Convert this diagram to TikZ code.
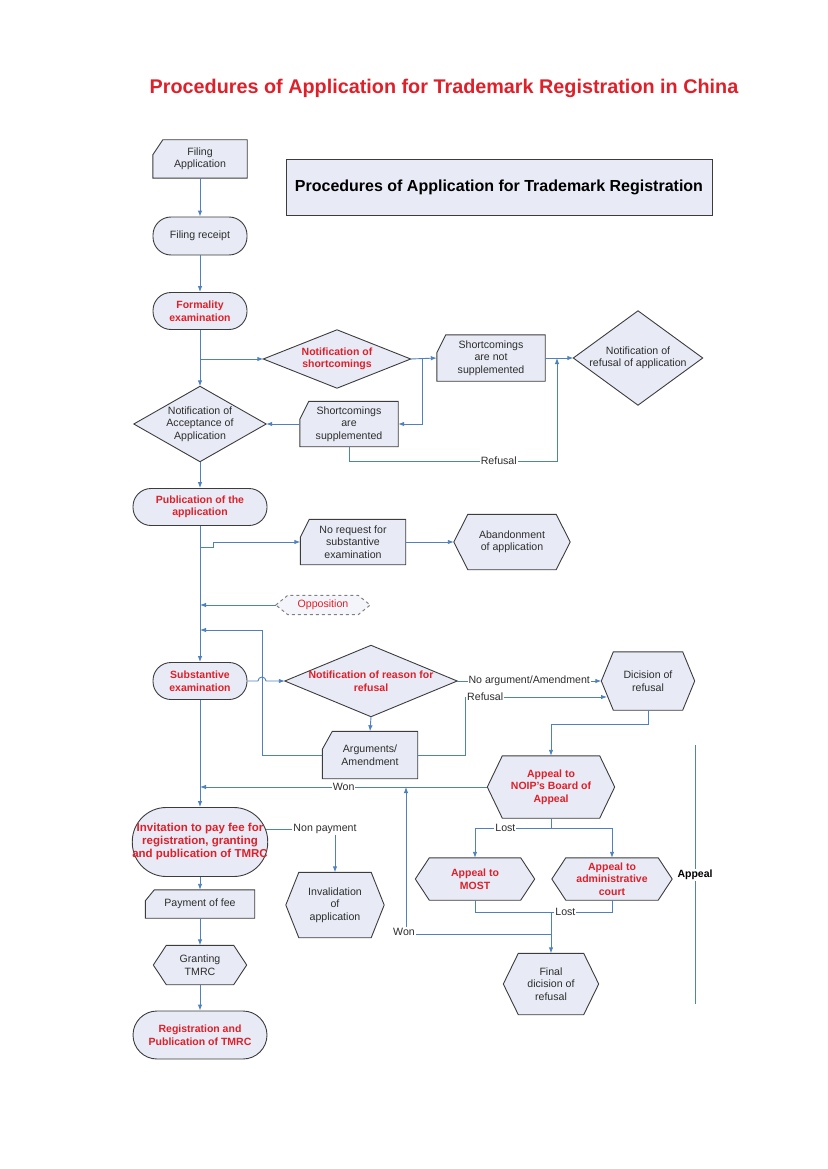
\documentclass[tikz,border=0pt]{standalone}
\usepackage{fontspec}
\setmainfont{Liberation Sans}
\usetikzlibrary{arrows.meta,calc}
\pgfdeclarelayer{bg}
\pgfsetlayers{bg,main}
\definecolor{fillc}{RGB}{232,235,246}
\definecolor{edgec}{RGB}{60,60,60}
\definecolor{linec}{RGB}{79,129,189}
\definecolor{redc}{RGB}{222,32,42}
\definecolor{txtc}{RGB}{45,45,45}
\tikzset{
  every node/.style={inner sep=0pt, align=center, text=txtc, font=\fontsize{10.6}{12.5}\selectfont},
  outl/.style={draw=edgec, fill=fillc, line width=0.9pt},
  stad/.style={draw=edgec, fill=fillc, line width=0.9pt, rounded corners=#1},
  redt/.style={text=redc, font=\bfseries\fontsize{10.5}{12.5}\selectfont},
  arr/.style={draw=linec, line width=0.9pt, -{Latex[length=6pt,width=4.5pt]}},
  con/.style={draw=linec, line width=0.9pt},
  lbl/.style={fill=white, inner sep=1pt, text=txtc}
}
\newcommand\mkcard[3]{\begin{pgfonlayer}{bg}\path[outl] ([yshift=-#3]#1.north west) -- ([xshift=#2]#1.north west) -- (#1.north east) -- (#1.south east) -- (#1.south west) -- cycle;\end{pgfonlayer}}
\newcommand\mkhex[2]{\begin{pgfonlayer}{bg}\path[outl] (#1.west) -- ([xshift=#2]#1.north west) -- ([xshift=-#2]#1.north east) -- (#1.east) -- ([xshift=-#2]#1.south east) -- ([xshift=#2]#1.south west) -- cycle;\end{pgfonlayer}}
\newcommand\mkdiam[1]{\begin{pgfonlayer}{bg}\path[outl] (#1.west) -- (#1.north) -- (#1.east) -- (#1.south) -- cycle;\end{pgfonlayer}}
\begin{document}
\begin{tikzpicture}[x=1pt,y=-1pt]
\useasboundingbox (0,0) rectangle (827,1169);
\node[redt, font=\bfseries\fontsize{19.8}{23}\selectfont] (title) at (444,88) {Procedures of Application for Trademark Registration in China};
\node[outl, minimum width=426pt, minimum height=56pt, text=black, font=\bfseries\fontsize{16}{19}\selectfont] (tbox) at (499,187) {Procedures of Application for Trademark Registration};

\node[minimum width=94pt, minimum height=38pt] (fa) at (200,159) {Filing\\Application}; \mkcard{fa}{10pt}{15pt}
\node[stad=18pt, minimum width=94pt, minimum height=38pt] (fr) at (200,236) {Filing receipt};
\node[stad=18pt, redt, minimum width=94pt, minimum height=37pt] (fe) at (200,311) {Formality\\examination};
\node[redt, minimum width=147pt, minimum height=58pt] (ns) at (337,359) {Notification of\\shortcomings}; \mkdiam{ns}
\node[minimum width=108pt, minimum height=46pt] (sn) at (491,358) {Shortcomings\\are not\\supplemented}; \mkcard{sn}{9pt}{18pt}
\node[minimum width=129pt, minimum height=94pt] (nr) at (638,358) {Notification of\\refusal of application}; \mkdiam{nr}
\node[minimum width=98pt, minimum height=45pt] (ss) at (349,424) {Shortcomings\\are\\supplemented}; \mkcard{ss}{9pt}{18pt}
\node[minimum width=132pt, minimum height=75pt] (na) at (200,424) {Notification of\\Acceptance of\\Application}; \mkdiam{na}
\node[stad=18pt, redt, minimum width=134pt, minimum height=37pt] (pa) at (200,507) {Publication of the\\application};
\node[minimum width=105pt, minimum height=45pt] (nq) at (353,542) {No request for\\substantive\\examination}; \mkcard{nq}{9pt}{18pt}
\node[minimum width=116pt, minimum height=55pt] (ab) at (512,542) {Abandonment\\of application}; \mkhex{ab}{14pt}
\node[text=redc, minimum width=94pt, minimum height=19pt] (op) at (323,605) {Opposition};
\begin{pgfonlayer}{bg}\path[draw=gray, dashed, line width=1pt, fill=fillc!50] (op.west) -- ([xshift=12pt]op.north west) -- ([xshift=-12pt]op.north east) -- (op.east) -- ([xshift=-12pt]op.south east) -- ([xshift=12pt]op.south west) -- cycle;\end{pgfonlayer}
\node[stad=18pt, redt, minimum width=94pt, minimum height=37pt] (se) at (200,681) {Substantive\\examination};
\node[redt, minimum width=172pt, minimum height=71pt] (rr) at (371,681) {Notification of reason for\\refusal}; \mkdiam{rr}
\node[minimum width=93pt, minimum height=58pt] (dr) at (648,681) {Dicision of\\refusal}; \mkhex{dr}{12pt}
\node[minimum width=95pt, minimum height=47pt] (am) at (370,755) {Arguments/\\Amendment}; \mkcard{am}{10pt}{18pt}
\node[redt, minimum width=127pt, minimum height=62pt] (noip) at (551,787) {Appeal to\\NOIP's Board of\\Appeal}; \mkhex{noip}{15pt}
\node[stad=34pt, redt, font=\bfseries\fontsize{11.5}{13}\selectfont, minimum width=134pt, minimum height=69pt] (inv) at (200,842) {Invitation to pay fee for\\registration, granting\\and publication of TMRC};
\node[minimum width=98pt, minimum height=65pt] (iv) at (335,905) {Invalidation\\of\\application}; \mkhex{iv}{13pt}
\node[minimum width=109pt, minimum height=28pt] (pf) at (200,904) {Payment of fee}; \mkcard{pf}{9pt}{11pt}
\node[minimum width=93pt, minimum height=39pt] (gt) at (200,965) {Granting\\TMRC}; \mkhex{gt}{13pt}
\node[stad=24pt, redt, minimum width=134pt, minimum height=48pt] (rp) at (200,1035) {Registration and\\Publication of TMRC};
\node[redt, minimum width=119pt, minimum height=42pt] (most) at (475,879) {Appeal to\\MOST}; \mkhex{most}{14pt}
\node[redt, minimum width=120pt, minimum height=42pt] (ac) at (612,879) {Appeal to\\administrative\\court}; \mkhex{ac}{14pt}
\node[minimum width=95pt, minimum height=61pt] (fd) at (551,984) {Final\\dicision of\\refusal}; \mkhex{fd}{15pt}

% connectors
\draw[arr] (fa.south) -- (fr.north);
\draw[arr] (fr.south) -- (fe.north);
\draw[arr] (fe.south) -- (na.north);
\draw[arr] (fe.south |- ns.west) -- (ns.west);
\coordinate (j1) at (422,359);
\draw[arr] (ns.east) -- (sn.west);
\draw[arr] (j1) |- (ss.east);
\draw[arr] (ss.west) -- (na.east);
\draw[arr] (sn.east) -- (nr.west);
\coordinate (r1) at (557,461);
\draw[arr] (ss.south) |- node[lbl,pos=0.86] (lref1) {Refusal} (r1) -- (r1 |- nr.west);
\draw[arr] (na.south) -- (pa.north);
\draw[arr] (pa.south) -- (se.north);
\coordinate (g1) at (200,547);
\draw[arr] (g1) -- ++(13,0) -- ++(0,-5) -- (nq.west);
\draw[arr] (nq.east) -- (ab.west);
\draw[arr] (op.west) -- (op.west -| pa.south);
\coordinate (fb) at (262,630);
\draw[arr] (am.west) -| (fb) -- (fb -| se.north);
\draw[arr] (se.east) -- ([xshift=-4pt]fb |- se.east) arc[start angle=180,end angle=0,radius=4pt] -- (rr.west);
\draw[arr] (rr.east) -- node[lbl] (lna) {No argument/Amendment} (dr.west);
\draw[arr] (rr.south) -- (am.north);
\coordinate (c2) at (465,697);
\coordinate (c3) at (607,697);
\draw[arr] (am.east) -| (c2) -- (c3);
\node[lbl, anchor=west] (lref2) at ([xshift=1pt]c2) {Refusal};
\draw[arr] (dr.south) -- ++(0,14) -| (noip.north);
\draw[arr] (noip.west) -- node[lbl] (lwon1) {Won} (noip.west -| se.south);
\draw[arr] (se.south) -- (inv.north);
\coordinate (n1) at ([xshift=-2pt,yshift=13pt]inv.east);
\node[lbl] (lnp) at (325,829) {Non payment};
\draw[con] (n1) -- (lnp.west);
\draw[arr] (lnp.south -| iv.north) -- (iv.north);
\draw[arr] (inv.south) -- (pf.north);
\draw[arr] (pf.south) -- (gt.north);
\draw[arr] (gt.south) -- (rp.north);
\draw[arr] (noip.south) -- ++(0,10) coordinate (l1) -| node[lbl,pos=0.3] (llost1) {Lost} (most.north);
\draw[arr] (l1) -| (ac.north);
\draw[con] (most.south) -- ++(0,12) coordinate (l2) -| node[lbl,pos=0.33] (llost2) {Lost} (ac.south);
\draw[arr] (l2 -| fd.north) -- (fd.north);
\coordinate (w1) at (551,934);
\coordinate (w2) at (406,934);
\draw[arr] (w1) -- (w2) -- (w2 |- noip.west);
\node[lbl] (lwon2) at (404,932) {Won};
\coordinate (ap1) at (695,745);
\coordinate (ap2) at (695,1004);
\draw[con] (ap1) -- (ap2);
\node[lbl, text=black, font=\bfseries\fontsize{10.5}{12.5}\selectfont] (lap) at (695,875) {Appeal};
\end{tikzpicture}
\end{document}
